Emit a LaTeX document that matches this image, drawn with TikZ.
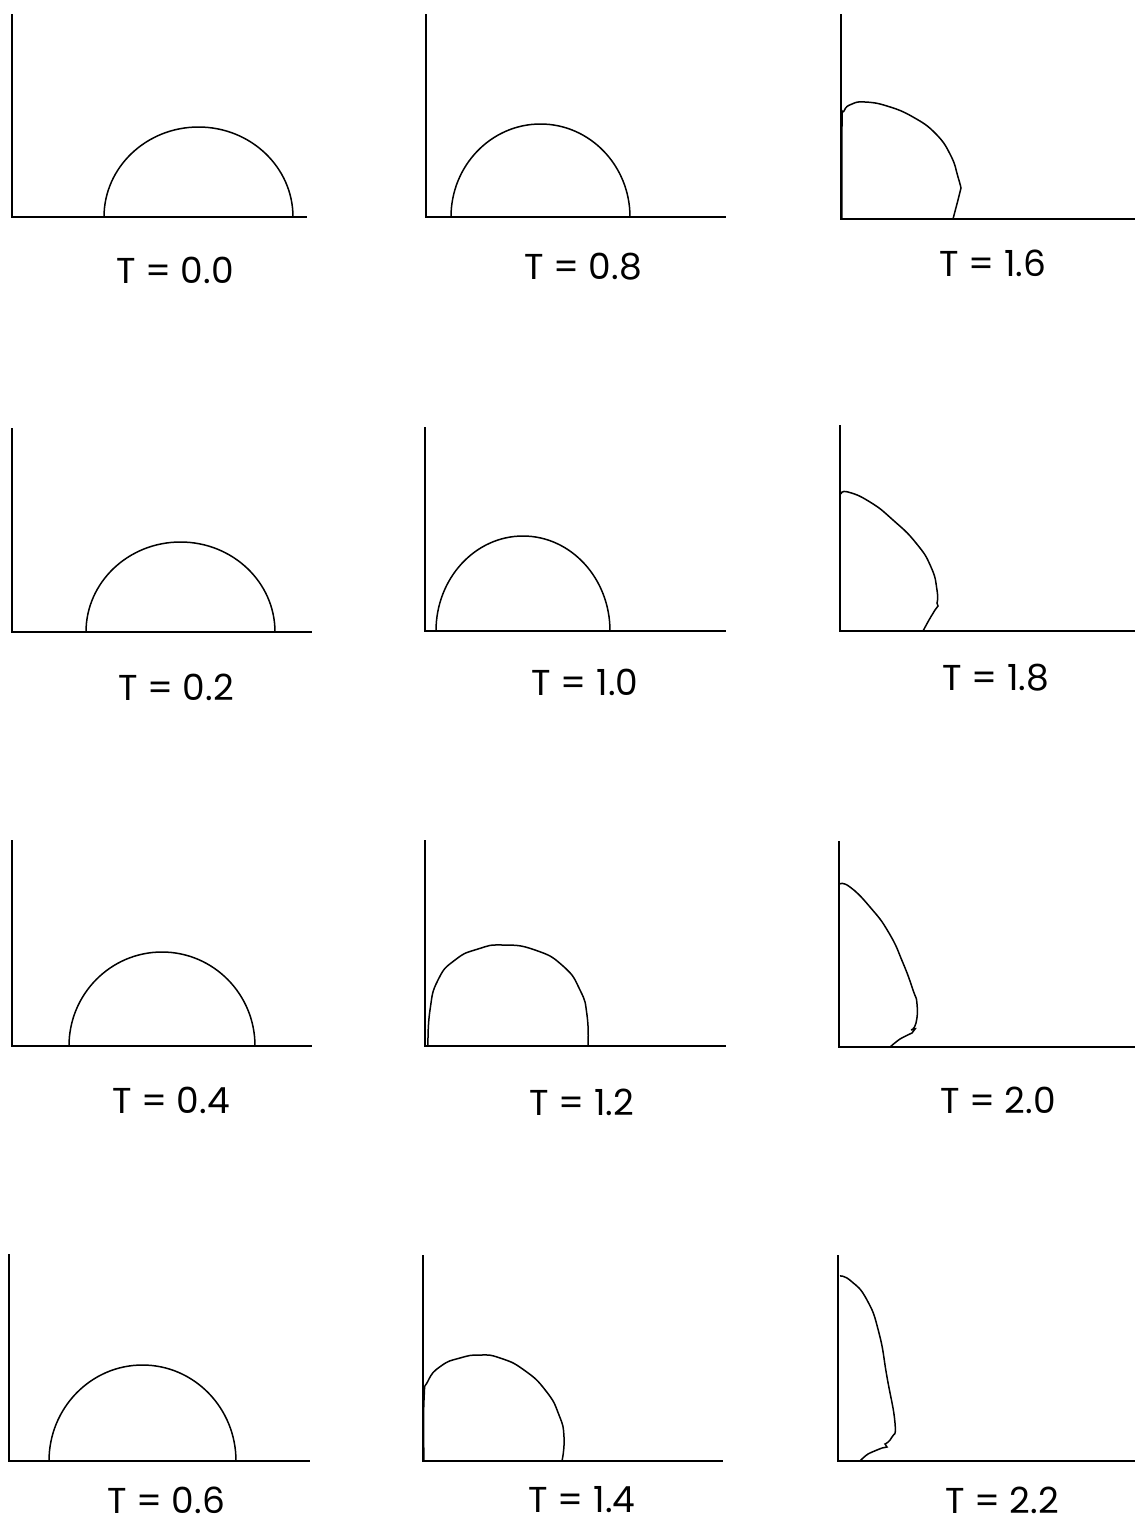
\documentclass[tikz,border=0pt]{standalone}
\usepackage{fontspec}
\setmainfont{Poppins}
\begin{document}
\begin{tikzpicture}[x=0.5pt,y=-0.5pt,
  axisline/.style={line width=1pt,line join=miter},
  drop/.style={line width=0.75pt},
  tlabel/.style={font=\fontsize{18}{20}\selectfont,inner sep=0pt,anchor=center}]
\useasboundingbox (0,0) rectangle (1135,1528);
% ---------- column 1 ----------
\draw[axisline] (12,14) -- (12,217) -- (307,217);
\draw[drop] (104,217) arc[start angle=180,end angle=360,x radius=94.5,y radius=90];
\node[tlabel] (t00) at (175,270) {T = 0.0};

\draw[axisline] (12,428) -- (12,632) -- (312,632);
\draw[drop] (86,632) arc[start angle=180,end angle=360,x radius=94.5,y radius=90];
\node[tlabel] (t02) at (176,687) {T = 0.2};

\draw[axisline] (12,840) -- (12,1046) -- (312,1046);
\draw[drop] (69,1046) arc[start angle=180,end angle=360,x radius=93,y radius=94];
\node[tlabel] (t04) at (171,1100) {T = 0.4};

\draw[axisline] (9,1254) -- (9,1461) -- (310,1461);
\draw[drop] (49,1461) arc[start angle=180,end angle=360,x radius=93.5,y radius=96];
\node[tlabel] (t06) at (166,1500) {T = 0.6};
% ---------- column 2 ----------
\draw[axisline] (426,14) -- (426,217) -- (726,217);
\draw[drop] (451,217) arc[start angle=180,end angle=360,x radius=89.5,y radius=93];
\node[tlabel] (t08) at (583,267) {T = 0.8};

\draw[axisline] (425,427) -- (425,631) -- (726,631);
\draw[drop] (436,631) arc[start angle=180,end angle=360,x radius=87,y radius=95];
\node[tlabel] (t10) at (585,682) {T = 1.0};

\draw[axisline] (425,840) -- (425,1046) -- (726,1046);
\draw[drop] plot[smooth,tension=0.9] coordinates {(428,1046) (430,1010) (438,980) (455,960) (478,949) (503,945) (535,950) (563,966) (580,990) (587,1015) (588,1046)};
\node[tlabel] (t12) at (582,1102) {T = 1.2};

\draw[axisline] (423,1255) -- (423,1461) -- (723,1461);
\draw[drop] plot[smooth,tension=0.9] coordinates {(424,1461) (424,1400) (428,1381) (441,1366) (460,1358) (480,1355) (500,1358) (524,1370) (546,1391) (559,1415) (564,1437) (562,1461)};
\node[tlabel] (t14) at (582,1500) {T = 1.4};
% ---------- column 3 ----------
\draw[axisline] (841,14) -- (841,219) -- (1135,219);
\draw[drop] plot[smooth,tension=0.8] coordinates {(842,219) (842,126) (844,111) (852,104) (865,102) (887,106) (913,117) (936,134) (951,156) (958,177) (961,188)} -- (958,200) -- (953,219);
\node[tlabel] (t16) at (993,263) {T = 1.6};

\draw[axisline] (840,425) -- (840,631) -- (1135,631);
\draw[drop] plot[smooth,tension=0.9] coordinates {(841,494) (848,492) (870,502) (893,520) (916,543) (931,567) (937,590) (937,603)} -- (938,606) -- plot[smooth,tension=0.6] coordinates {(935,610) (929,620) (923,631)};
\node[tlabel] (t18) at (996,678) {T = 1.8};

\draw[axisline] (839,841) -- (839,1047) -- (1135,1047);
\draw[drop] plot[smooth,tension=0.9] coordinates {(840,884) (850,887) (870,907) (889,933) (903,963) (913,990) (917,1004) (916,1023) (911,1030)} -- (915,1029) -- plot[smooth,tension=0.5] coordinates {(912,1033) (900,1039) (890,1047)};
\node[tlabel] (t20) at (998,1100) {T = 2.0};

\draw[axisline] (838,1255) -- (838,1461) -- (1135,1461);
\draw[drop] plot[smooth,tension=0.9] coordinates {(840,1276) (851,1281) (867,1300) (879,1333) (887,1377) (895,1423) (892,1437) (885,1444)} -- (887,1447) -- plot[smooth,tension=0.5] coordinates {(882,1448) (868,1454) (860,1461)};
\node[tlabel] (t22) at (1002,1500) {T = 2.2};
\end{tikzpicture}
\end{document}
